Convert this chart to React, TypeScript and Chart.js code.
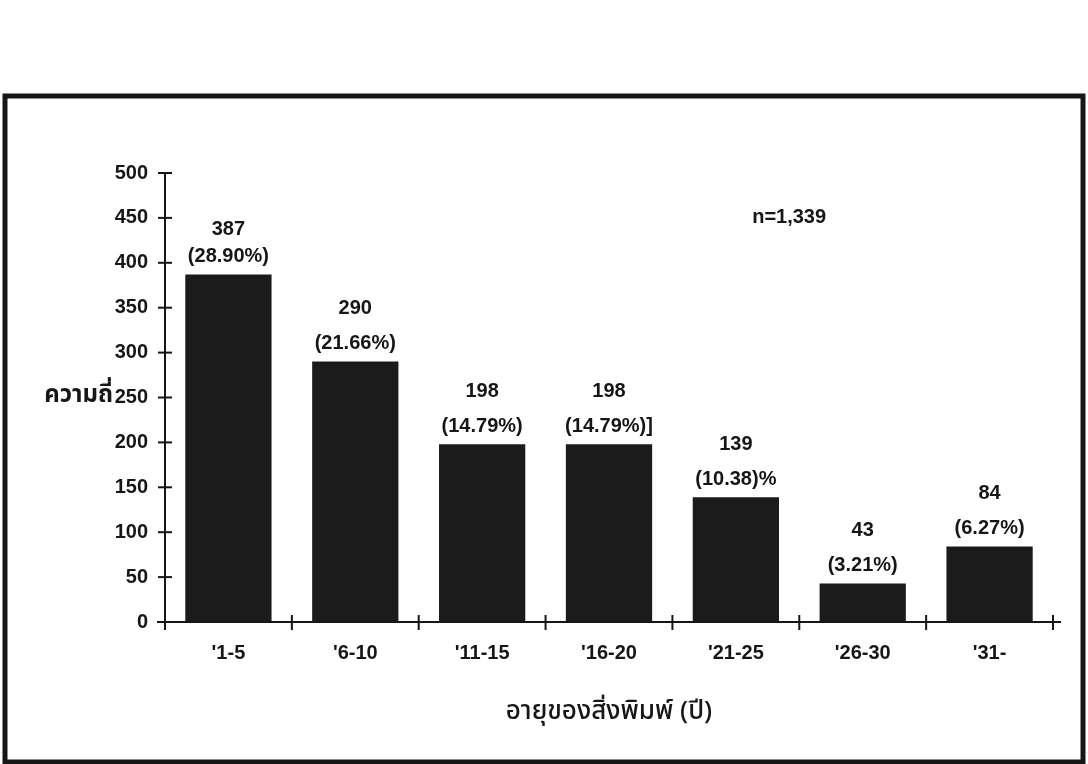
import React, { useEffect, useRef } from "react";
import { Chart, registerables } from "chart.js";

Chart.register(...registerables);

const categories = ["'1-5", "'6-10", "'11-15", "'16-20", "'21-25", "'26-30", "'31-"];
const frequencies = [387, 290, 198, 198, 139, 43, 84];
const percentLabels = ["(28.90%)", "(21.66%)", "(14.79%)", "(14.79%)]", "(10.38)%", "(3.21%)", "(6.27%)"];
const yTitle = "ความถี่";
const xTitle = "อายุของสิ่งพิมพ์ (ปี)";
const sampleNote = "n=1,339";

const NUM_FONT = "'Liberation Sans', Arial, sans-serif";
const THAI_FONT = "'Noto Sans Thai', 'Noto Sans', 'DejaVu Sans', sans-serif";
const INK = "#161616";

const decorPlugin = {
  id: "decor",
  beforeDraw(chart: any) {
    const ctx = chart.ctx;
    ctx.save();
    ctx.fillStyle = "#ffffff";
    ctx.fillRect(0, 0, chart.width, chart.height);
    ctx.strokeStyle = INK;
    ctx.lineWidth = 5;
    ctx.strokeRect(5, 96, chart.width - 10, chart.height - 98);
    ctx.restore();
  },
  afterDatasetsDraw(chart: any) {
    const ctx = chart.ctx;
    const xs = chart.scales.x;
    const ys = chart.scales.y;
    const area = chart.chartArea;
    ctx.save();
    ctx.strokeStyle = INK;
    ctx.lineWidth = 2;
    // extended x axis line
    ctx.beginPath();
    ctx.moveTo(area.left - 8, area.bottom);
    ctx.lineTo(area.right + 8, area.bottom);
    ctx.stroke();
    // y tick marks crossing axis
    ys.ticks.forEach((t: any) => {
      const py = ys.getPixelForValue(t.value);
      ctx.beginPath();
      ctx.moveTo(area.left - 7, py);
      ctx.lineTo(area.left + 7, py);
      ctx.stroke();
    });
    // x tick marks at category boundaries
    const step = xs.getPixelForValue(1) - xs.getPixelForValue(0);
    for (let i = 0; i <= categories.length; i++) {
      const px = xs.getPixelForValue(i) - step / 2;
      ctx.beginPath();
      ctx.moveTo(px, area.bottom - 7);
      ctx.lineTo(px, area.bottom + 8);
      ctx.stroke();
    }
    // data labels
    const meta = chart.getDatasetMeta(0);
    ctx.fillStyle = INK;
    ctx.textAlign = "center";
    ctx.textBaseline = "middle";
    ctx.font = `bold 20px ${NUM_FONT}`;
    meta.data.forEach((el: any, i: number) => {
      const gap = i === 0 ? 27 : 35;
      ctx.fillText(percentLabels[i], el.x, el.y - 18);
      ctx.fillText(String(frequencies[i]), el.x, el.y - 18 - gap);
    });
    // sample note
    ctx.fillText(sampleNote, xs.getPixelForValue(4.42), ys.getPixelForValue(450));
    // y title
    ctx.font = `bold 24px ${THAI_FONT}`;
    ctx.textAlign = "right";
    ctx.fillText(yTitle, area.left - 52, ys.getPixelForValue(250));
    // x title
    ctx.textAlign = "center";
    ctx.font = `500 26px ${THAI_FONT}`;
    ctx.fillText(xTitle, (area.left + area.right) / 2, area.bottom + 92);
    ctx.restore();
  },
};

export default function App() {
  const ref = useRef<HTMLCanvasElement | null>(null);
  useEffect(() => {
    document.body.style.margin = "0";
    if (!ref.current) return;
    const chart = new Chart(ref.current, {
      type: "bar",
      data: {
        labels: categories,
        datasets: [
          {
            data: frequencies,
            backgroundColor: "#1b1b1b",
            borderWidth: 0,
            barPercentage: 0.68,
            categoryPercentage: 1,
          },
        ],
      },
      options: {
        animation: false,
        responsive: false,
        layout: { padding: { left: 0, top: 173, right: 35, bottom: 0 } },
        plugins: { legend: { display: false }, tooltip: { enabled: false } },
        scales: {
          x: {
            grid: { display: false, drawTicks: false },
            border: { display: true, color: INK, width: 2 },
            ticks: {
              color: INK,
              padding: 19,
              font: { family: NUM_FONT, size: 20, weight: "bold" },
            },
            afterFit: (s: any) => {
              s.height = 142;
            },
          },
          y: {
            min: 0,
            max: 500,
            grid: { display: false, drawTicks: false },
            border: { display: true, color: INK, width: 2 },
            ticks: {
              stepSize: 50,
              color: INK,
              padding: 17,
              font: { family: NUM_FONT, size: 20, weight: "bold" },
            },
            afterFit: (s: any) => {
              s.width = 165;
            },
          },
        },
      },
      plugins: [decorPlugin],
    });
    return () => chart.destroy();
  }, []);
  return (
    <div style={{ width: 1088, height: 764 }}>
      <canvas ref={ref} width={1088} height={764} style={{ width: 1088, height: 764, display: "block" }} />
    </div>
  );
}
